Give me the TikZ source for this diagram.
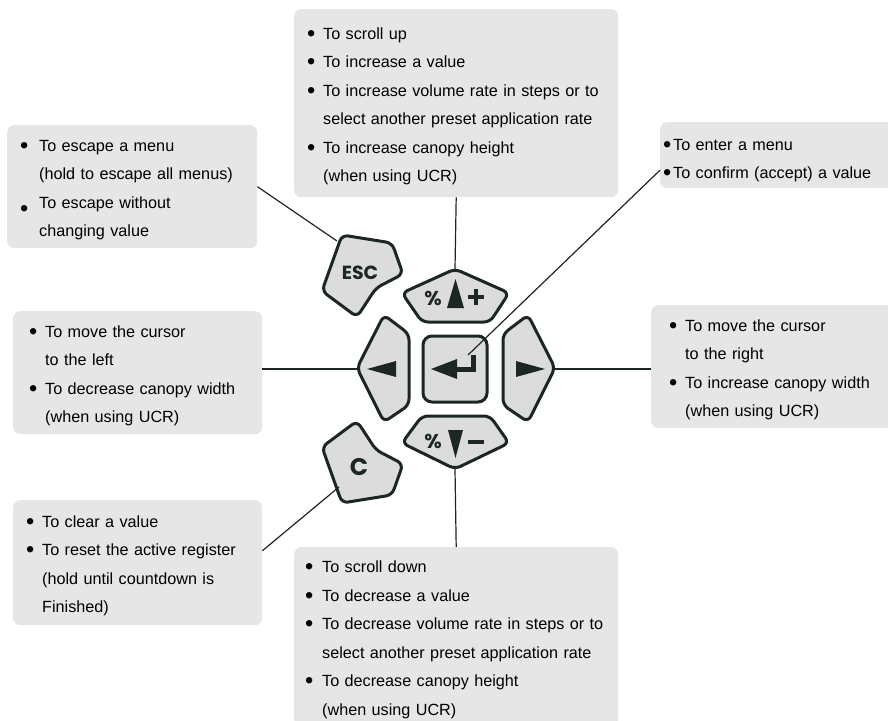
\documentclass[tikz,border=0pt]{standalone}
\usepackage{fontspec}
\usepackage{graphicx}
\setmainfont{Liberation Sans}
\newfontfamily\keyfont{Poppins}
\newcommand{\bul}[1][16pt]{\makebox[#1][l]{\rule{0pt}{18pt}\raisebox{-1.8pt}{\scalebox{1.45}{\textbullet}}}}
\newcommand{\ind}[1][16pt]{\hspace*{#1}}
\definecolor{boxgray}{HTML}{E6E6E6}
\definecolor{keygray}{HTML}{DCDCDC}
\definecolor{keyline}{HTML}{1C2624}
\tikzset{
  infobox/.style={fill=boxgray,rounded corners=7pt,anchor=north west,align=left,inner ysep=0pt,font={\fontsize{16.2pt}{28.5pt}\selectfont}},
  keyshape/.style={draw=keyline,fill=keygray,line width=3pt,rounded corners=6pt,line join=round},
  keylabel/.style={text=keyline,inner sep=0pt,font={\keyfont\bfseries\fontsize{20pt}{20pt}\selectfont}},
  wire/.style={draw=keyline,line width=1.2pt}
}

\begin{document}
\begin{tikzpicture}[x=1pt,y=-1pt]
\useasboundingbox (0,0) rectangle (888,720);
\clip (0,0) rectangle (888,720);

\node[infobox,inner xsep=13pt,text width=298pt,minimum height=188pt] (upbox) at (294,9) {\bul To scroll up\\ \bul To increase a value\\ \bul To increase volume rate in steps or to\\ \ind select another preset application rate\\ \bul To increase canopy height\\ \ind (when using UCR)};
\node[infobox,inner xsep=13pt,text width=224pt,minimum height=123pt] (escbox) at (7,125) {\bul[19pt]To escape a menu\\ \ind[19pt](hold to escape all menus)\\ \raisebox{-6pt}{\bul[19pt]}To escape without\\ \ind[19pt]changing value};
\node[infobox,inner xsep=3pt,text width=238pt,minimum height=66pt] (enterbox) at (660,122) {\rule{0pt}{22pt}\bul[10pt]To enter a menu\\ \bul[10pt]To confirm (accept) a value};
\node[infobox,inner xsep=16pt,text width=217pt,minimum height=123pt] (leftbox) at (13,311) {\bul To move the cursor\\ \ind to the left\\ \bul To decrease canopy width\\ \ind (when using UCR)};
\node[infobox,inner xsep=18pt,text width=209pt,minimum height=123pt] (rightbox) at (651,305) {\bul To move the cursor\\ \ind to the right\\ \bul To increase canopy width\\ \ind (when using UCR)};
\node[infobox,inner xsep=13pt,text width=223pt,minimum height=125pt] (cbox) at (13,500) {\bul To clear a value\\ \bul To reset the active register\\ \ind (hold until countdown is\\ \ind Finished)};
\node[infobox,inner xsep=11pt,text width=302pt,minimum height=179pt] (downbox) at (294,547) {\bul[17pt]To scroll down\\ \bul[17pt]To decrease a value\\ \bul[17pt]To decrease volume rate in steps or to\\ \ind[17pt]select another preset application rate\\ \bul[17pt]To decrease canopy height\\ \ind[17pt](when using UCR)};

\draw[keyshape] (342,235) -- (392,243) -- (403,274) -- (376,288) -- (357,317) -- (322,291) -- cycle;
\draw[keyshape] (342,503) -- (392,495) -- (403,464) -- (376,450) -- (357,421) -- (322,447) -- cycle;
\draw[keyshape] (455,269) -- (509,293) -- (490,322) -- (422,322) -- (402,293) -- cycle;
\draw[keyshape] (455,469) -- (509,443) -- (490,416) -- (422,416) -- (402,443) -- cycle;
\draw[keyshape] (357,368) -- (384,315) -- (409,334) -- (409,405) -- (384,422) -- cycle;
\draw[keyshape] (555,368) -- (528,315) -- (503,334) -- (503,405) -- (528,422) -- cycle;
\node[keyshape,rounded corners=9pt,minimum width=64pt,minimum height=66pt] (enterkey) at (455,369) {};

\node[keylabel,font={\keyfont\bfseries\fontsize{19pt}{19pt}\selectfont}] (esckey) at (360,273) {ESC};
\node[keylabel,font={\keyfont\bfseries\fontsize{24pt}{24pt}\selectfont}] (ckey) at (359,467) {C};
\node[keylabel] (uppct) at (433,298) {\%};
\node[keylabel] (downpct) at (433,441) {\%};
\fill[keyline] (455.5,279) -- (464,308) -- (447,308) -- cycle;
\fill[keyline] (448,430) -- (463,430) -- (455.5,458) -- cycle;
\draw[keyline,line width=3.5pt] (468,297) -- (484,297) (476,289) -- (476,305);
\draw[keyline,line width=3.5pt] (468,442) -- (484,442);
\fill[keyline] (367,369) -- (396,361) -- (396,377) -- cycle;
\fill[keyline] (545,369) -- (516,361) -- (516,377) -- cycle;
\fill[keyline] (431,369) -- (457,359) -- (457,379) -- cycle;
\draw[keyline,line width=5pt] (473.5,355) -- (473.5,369) -- (456,369);

\coordinate (esctip) at (337,241);
\coordinate (uptip) at (455,269);
\coordinate (entertip) at (468,355);
\coordinate (lefttip) at (357,369);
\coordinate (righttip) at (555,369);
\coordinate (ctip) at (339,487);
\coordinate (downtip) at (455,469);

\draw[wire] (escbox.east) -- (esctip); \draw[wire] (upbox.south) -- (uptip); \draw[wire] ([yshift=-15pt]enterbox.west) -- (entertip); \draw[wire] (leftbox.east |- lefttip) -- (lefttip); \draw[wire] (rightbox.west |- righttip) -- (righttip); \draw[wire] ([yshift=12pt]cbox.east) -- (ctip); \draw[wire] (downbox.north) -- (downtip);
\end{tikzpicture}
\end{document}
